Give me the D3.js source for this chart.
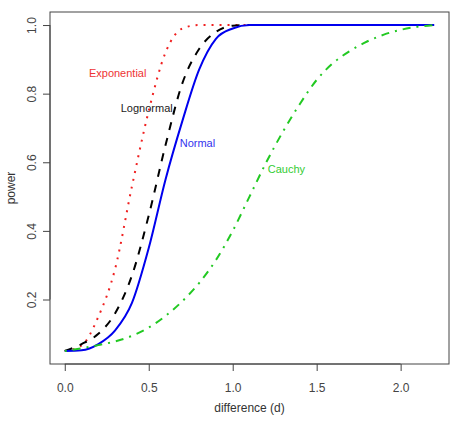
<!DOCTYPE html>
<html>
<head>
<meta charset="utf-8">
<script src="https://cdn.jsdelivr.net/npm/d3@7"></script>
<style>
  body { margin: 0; background: #fff; }
  text { font-family: "Liberation Sans", Arial, sans-serif; }
</style>
</head>
<body>
<svg id="chart" width="455" height="427"></svg>
<script>
// difference values (d) at which power was computed
var diff = [0, 0.1, 0.2, 0.3, 0.4, 0.5, 0.6, 0.7, 0.8, 0.9, 1.0, 1.1,
            1.2, 1.3, 1.4, 1.5, 1.6, 1.7, 1.8, 1.9, 2.0, 2.1, 2.2];

// power per distribution
var exponential = [0.05, 0.066, 0.15, 0.29, 0.53, 0.75, 0.92, 0.99, 1.0, 1.0, 1.0, 1.0,
                   1.0, 1.0, 1.0, 1.0, 1.0, 1.0, 1.0, 1.0, 1.0, 1.0, 1.0];
var lognormal   = [0.05, 0.07, 0.10, 0.16, 0.27, 0.445, 0.65, 0.83, 0.93, 0.98, 0.998, 1.0,
                   1.0, 1.0, 1.0, 1.0, 1.0, 1.0, 1.0, 1.0, 1.0, 1.0, 1.0];
var normal      = [0.05, 0.052, 0.07, 0.11, 0.19, 0.35, 0.55, 0.72, 0.87, 0.96, 0.99, 1.0,
                   1.0, 1.0, 1.0, 1.0, 1.0, 1.0, 1.0, 1.0, 1.0, 1.0, 1.0];
var cauchy      = [0.05, 0.058, 0.067, 0.078, 0.094, 0.118, 0.152, 0.195, 0.248, 0.315, 0.40, 0.50,
                   0.60, 0.69, 0.77, 0.84, 0.89, 0.925, 0.952, 0.972, 0.986, 0.995, 1.0];

var xTicks = [0, 0.5, 1.0, 1.5, 2.0];
var yTicks = [0.2, 0.4, 0.6, 0.8, 1.0];

// curve labels placed in data coordinates
var labelNames = ["Exponential", "Lognormal", "Normal", "Cauchy"];
var labelX = [0.315, 0.488, 0.79, 1.32];
var labelY = [0.86, 0.758, 0.656, 0.58];

(function() {
    var series = [
        {name: "Exponential", values: exponential, color: "#f02020", dash: "2,6"},
        {name: "Lognormal", values: lognormal, color: "#000000", dash: "8,8"},
        {name: "Normal", values: normal, color: "#0000ee", dash: null},
        {name: "Cauchy", values: cauchy, color: "#22c922", dash: "2,6,8,6"}
    ];
    var labelColors = ["#ee3333", "#222222", "#3333ee", "#33cc33"];

    var mLeft = 50, mTop = 12, mRight = 449, mBottom = 364;
    var svg = d3.select("#chart");

    // R style 4% padding on each side
    var xPad = 2.2 * 0.04, yPad = 0.95 * 0.04;
    var x = d3.scaleLinear().domain([0 - xPad, 2.2 + xPad]).range([mLeft, mRight]);
    var y = d3.scaleLinear().domain([0.05 - yPad, 1.0 + yPad]).range([mBottom, mTop]);

    var line = d3.line()
        .x(function(d) { return x(d[0]); })
        .y(function(d) { return y(d[1]); })
        .curve(d3.curveMonotoneX);

    series.forEach(function(s) {
        var pts = diff.map(function(d, i) { return [d, s.values[i]]; });
        svg.append("path")
            .attr("d", line(pts))
            .attr("fill", "none")
            .attr("stroke", s.color)
            .attr("stroke-width", 2)
            .attr("stroke-dasharray", s.dash)
            .attr("stroke-linecap", "butt");
    });

    // box
    svg.append("rect")
        .attr("x", mLeft).attr("y", mTop)
        .attr("width", mRight - mLeft).attr("height", mBottom - mTop)
        .attr("fill", "none")
        .attr("stroke", "#444")
        .attr("stroke-width", 1);

    var xAxis = svg.append("g")
        .attr("transform", "translate(0," + mBottom + ")")
        .call(d3.axisBottom(x).tickValues(xTicks).tickFormat(d3.format(".1f"))
            .tickSize(7).tickSizeOuter(0).tickPadding(12));
    xAxis.select(".domain").attr("d", "M" + x(xTicks[0]) + ",0H" + x(xTicks[xTicks.length - 1]));

    var yAxis = svg.append("g")
        .attr("transform", "translate(" + mLeft + ",0)")
        .call(d3.axisLeft(y).tickValues(yTicks).tickFormat(d3.format(".1f"))
            .tickSize(7).tickSizeOuter(0));
    yAxis.select(".domain").attr("d", "M0," + y(yTicks[0]) + "V" + y(yTicks[yTicks.length - 1]));
    yAxis.selectAll(".tick text")
        .attr("transform", "rotate(-90)")
        .attr("x", 0).attr("y", -14).attr("dy", null)
        .attr("text-anchor", "middle");

    svg.selectAll(".tick line, .domain").attr("stroke", "#444");
    svg.selectAll(".tick text").attr("font-size", 12).attr("fill", "#444")
        .attr("font-family", "Liberation Sans, Arial, sans-serif");

    // axis titles
    svg.append("text")
        .attr("x", (mLeft + mRight) / 2).attr("y", 412)
        .attr("text-anchor", "middle").attr("font-size", 12).attr("fill", "#333")
        .text("difference (d)");
    svg.append("text")
        .attr("transform", "translate(15," + (mTop + mBottom) / 2 + ") rotate(-90)")
        .attr("text-anchor", "middle").attr("font-size", 12).attr("fill", "#333")
        .text("power");

    // curve labels
    labelNames.forEach(function(n, i) {
        svg.append("text")
            .attr("x", x(labelX[i])).attr("y", y(labelY[i]))
            .attr("dy", "0.35em")
            .attr("text-anchor", "middle")
            .attr("font-size", 11)
            .attr("fill", labelColors[i])
            .text(n);
    });
})();
</script>
</body>
</html>
